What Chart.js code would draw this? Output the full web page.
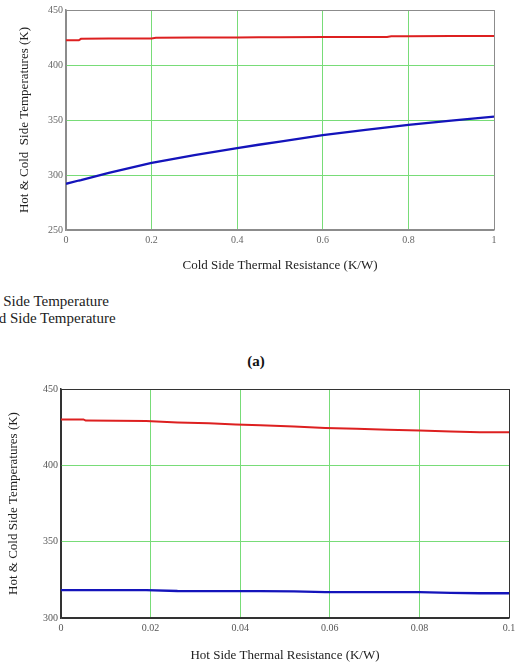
<!DOCTYPE html>
<html>
<head>
<meta charset="utf-8">
<script src="https://cdn.jsdelivr.net/npm/chart.js@4"></script>
<style>
  body { margin: 0; background: #fff; width: 520px; height: 663px; position: relative; overflow: hidden; font-family: "Liberation Serif", "DejaVu Serif", serif; }
  canvas { position: absolute; left: 0; }
  #topChart { top: 0; }
  #bottomChart { top: 350px; }
  .legendLine { position: absolute; left: -23px; font-size: 15px; line-height: 17px; color: #222; white-space: nowrap; }
  #caption { position: absolute; left: 200px; width: 112px; text-align: center; top: 352px; font-size: 15px; line-height: 18px; font-weight: bold; color: #111; }
</style>
</head>
<body>
<canvas id="topChart" width="520" height="280"></canvas>
<div class="legendLine" style="top:293px">Hot Side Temperature</div>
<div class="legendLine" style="top:310px">Cold Side Temperature</div>
<div id="caption">(a)</div>
<canvas id="bottomChart" width="520" height="313"></canvas>
<script>
// (a) temperatures vs cold side thermal resistance
const coldResX = [0, 0.03, 0.035, 0.1, 0.2, 0.21, 0.3, 0.4, 0.45, 0.5, 0.6, 0.7, 0.75, 0.76, 0.8, 0.9, 1];
const hotTempA = [422.5, 422.5, 423.8, 424, 424.1, 424.8, 424.9, 425, 425.3, 425.3, 425.4, 425.4, 425.5, 426.2, 426.2, 426.3, 426.3];
const coldTempA = [292, 295, 295.4, 302, 311, 311.8, 318, 324.5, 327.5, 330.3, 336.2, 341, 343.3, 343.7, 345.5, 349.4, 353];

// (b) temperatures vs hot side thermal resistance
const hotResX = [0, 0.005, 0.0055, 0.019, 0.026, 0.033, 0.039, 0.0445, 0.052, 0.059, 0.066, 0.073, 0.08, 0.087, 0.0935, 0.1];
const hotTempB = [430.1, 430.1, 429.3, 429.1, 428.1, 427.5, 426.8, 426.2, 425.4, 424.5, 424, 423.3, 422.8, 422.2, 421.7, 421.6];
const coldTempB = [318.3, 318.3, 318.3, 318.3, 317.7, 317.6, 317.6, 317.6, 317.5, 316.9, 316.9, 316.9, 316.9, 316.4, 316.2, 316.2];

// Axis tick settings
const yTicksA = { min: 250, max: 450, step: 50 };
const xTicksA = { min: 0, max: 1, step: 0.2 };
const yTicksB = { min: 300, max: 450, step: 50 };
const xTicksB = { min: 0, max: 0.1, step: 0.02 };

const gridGreen = 'rgb(120, 220, 120)';

/**
 * Turn x and y arrays into {x, y} points for a linear x axis.
 */
function toPoints(xs, ys) {
  return xs.map(function (x, i) { return { x: x, y: ys[i] }; });
}

// tick text without trailing zeros ("1" not "1.0", "0.1" not "0.10")
function plainTick(v) {
  return String(Number(v.toFixed(4)));
}

/**
 * Build one temperature chart. Box sizes fix the plot area so the
 * two panels sit where they should on the page.
 */
function makeTempChart(id, opts) {
  const ctx = document.getElementById(id).getContext('2d');
  const tickFont = { family: 'Liberation Serif', size: 10 };
  const titleFont = { family: 'Liberation Serif', size: 13 };

  // grid colour: green inside, frame colour on the outer edges
  function gridColor(range) {
    return function (c) {
      if (!c.tick) return gridGreen;
      const v = c.tick.value;
      if (Math.abs(v - range.min) < 1e-9 || Math.abs(v - range.max) < 1e-9) return opts.frame;
      return gridGreen;
    };
  }

  return new Chart(ctx, {
    type: 'line',
    data: {
      datasets: [{
        label: 'Hot Side Temperature',
        data: toPoints(opts.x, opts.hot),
        borderColor: '#dd2020',
        borderWidth: 2,
        pointRadius: 0,
        tension: 0
      }, {
        label: 'Cold Side Temperature',
        data: toPoints(opts.x, opts.cold),
        borderColor: '#1414bb',
        borderWidth: 2.3,
        pointRadius: 0,
        tension: 0
      }]
    },
    options: {
      responsive: false,
      animation: false,
      devicePixelRatio: 1,
      layout: { padding: opts.padding },
      plugins: { legend: { display: false }, tooltip: { enabled: false } },
      scales: {
        x: {
          type: 'linear',
          min: opts.xr.min,
          max: opts.xr.max,
          afterFit: function (s) { s.height = opts.xBox; },
          ticks: {
            stepSize: opts.xr.step,
            padding: 4,
            maxRotation: 0,
            color: opts.tickColor,
            font: tickFont,
            callback: plainTick
          },
          grid: { color: gridColor(opts.xr), lineWidth: 1, drawTicks: false },
          border: { color: opts.frame, width: opts.frameWidth },
          title: {
            display: true,
            text: opts.xTitle,
            color: '#222',
            font: titleFont,
            padding: { top: 0, bottom: opts.xTitlePad }
          }
        },
        y: {
          min: opts.yr.min,
          max: opts.yr.max,
          afterFit: function (s) { s.width = opts.yBox; },
          ticks: {
            stepSize: opts.yr.step,
            padding: 3,
            color: opts.tickColor,
            font: tickFont,
            callback: plainTick
          },
          grid: { color: gridColor(opts.yr), lineWidth: 1, drawTicks: false },
          border: { color: opts.frame, width: opts.frameWidth },
          title: {
            display: true,
            text: opts.yTitle,
            color: '#222',
            font: titleFont,
            padding: { top: opts.yTitlePad, bottom: 0 }
          }
        }
      }
    }
  });
}

document.addEventListener('DOMContentLoaded', function () {
  makeTempChart('topChart', {
    x: coldResX, hot: hotTempA, cold: coldTempA,
    xr: xTicksA, yr: yTicksA,
    padding: { left: 0, top: 10, right: 26, bottom: 0 },
    xBox: 50, yBox: 66,
    xTitle: 'Cold Side Thermal Resistance (K/W)',
    yTitle: 'Hot & Cold  Side Temperatures (K)',
    xTitlePad: 7, yTitlePad: 17,
    frame: '#8c8c8c', frameWidth: 1.5, tickColor: '#666'
  });

  makeTempChart('bottomChart', {
    x: hotResX, hot: hotTempB, cold: coldTempB,
    xr: xTicksB, yr: yTicksB,
    padding: { left: 0, top: 39, right: 11, bottom: 0 },
    xBox: 45, yBox: 61,
    xTitle: 'Hot Side Thermal Resistance (K/W)',
    yTitle: 'Hot & Cold Side Temperatures (K)',
    xTitlePad: 0, yTitlePad: 6,
    frame: '#333333', frameWidth: 1.5, tickColor: '#555'
  });
});
</script>
</body>
</html>
